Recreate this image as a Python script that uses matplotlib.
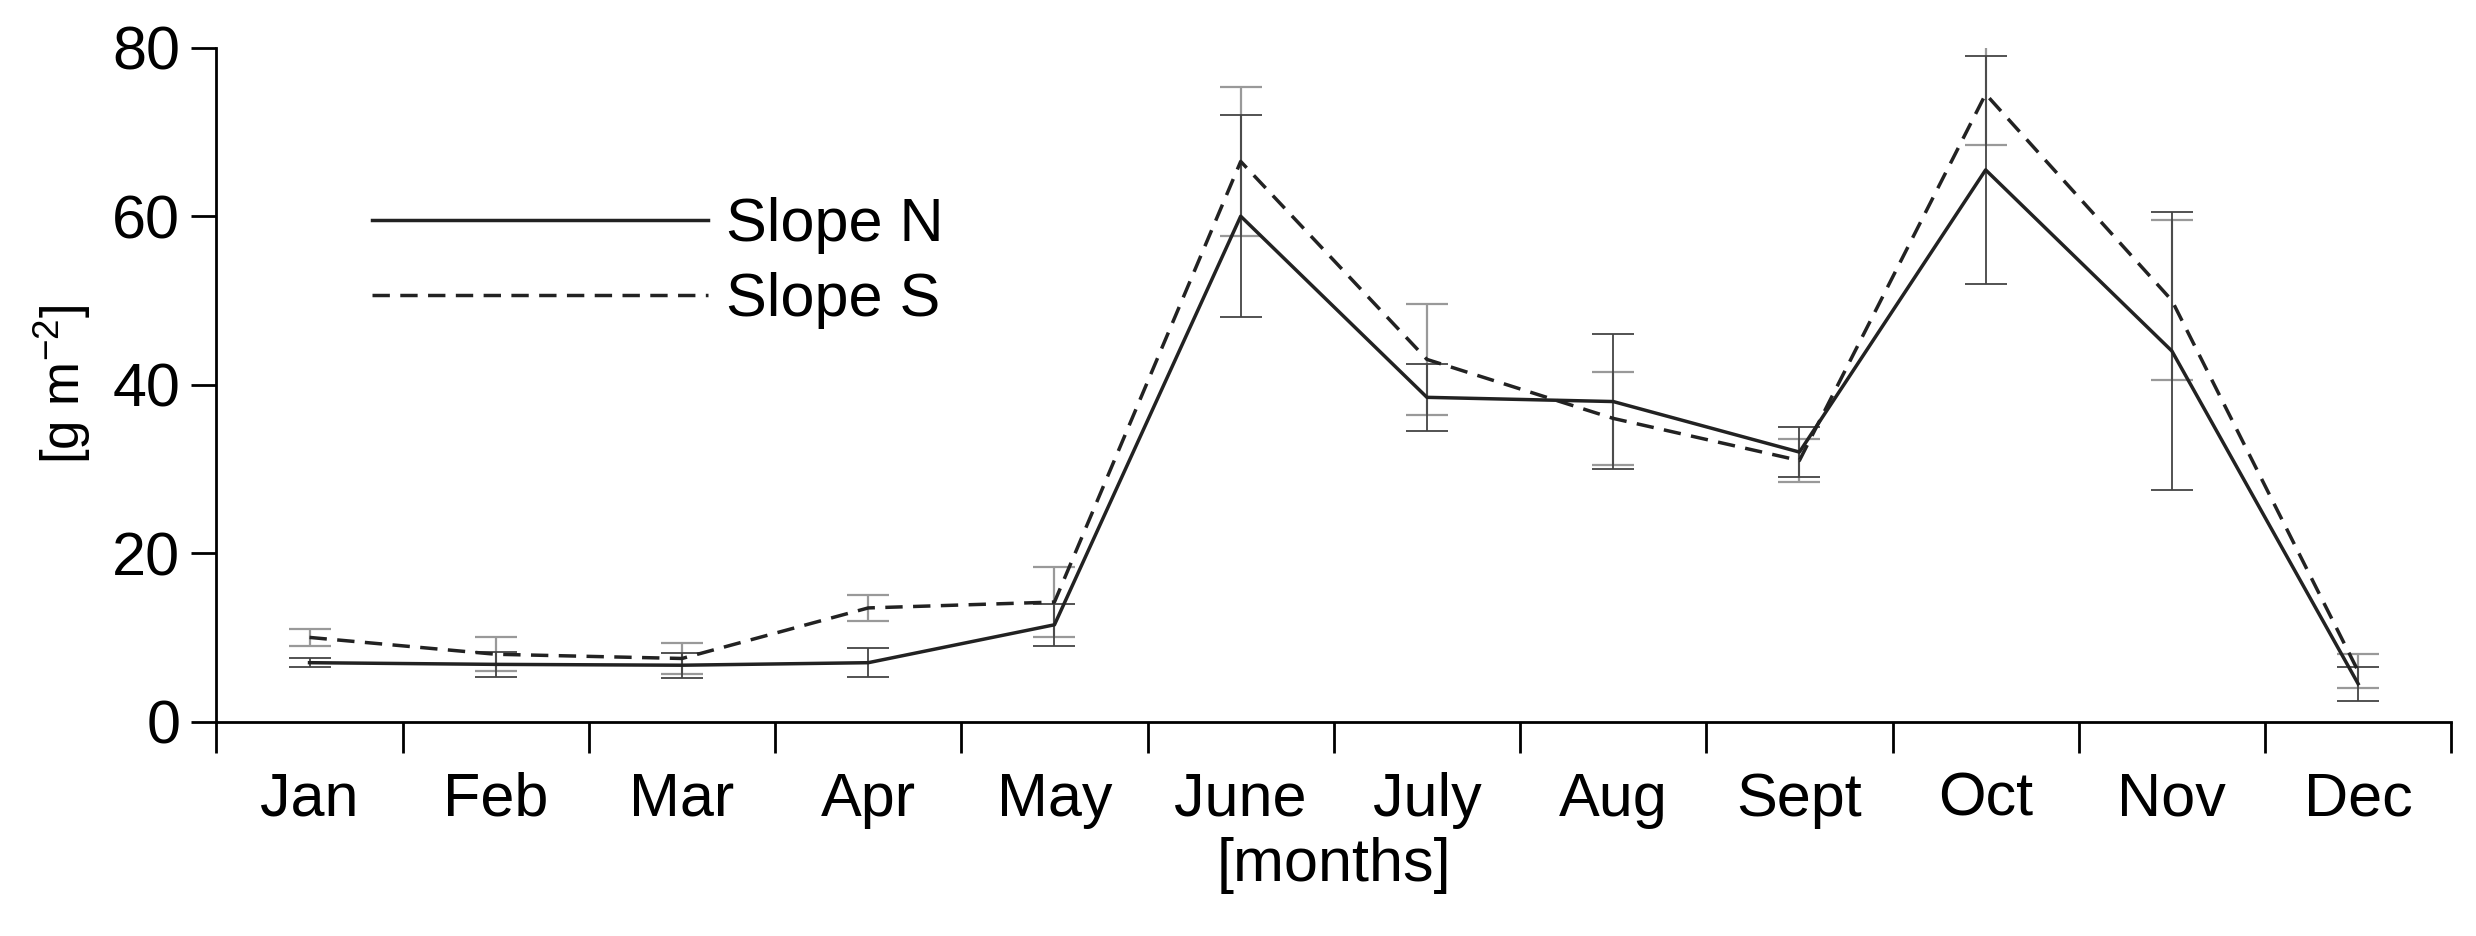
import matplotlib
matplotlib.use("Agg")
import matplotlib.pyplot as plt
import numpy as np

months = ["Jan", "Feb", "Mar", "Apr", "May", "June", "July", "Aug", "Sept", "Oct", "Nov", "Dec"]
slope_n = [7.0, 6.8, 6.7, 7.0, 11.5, 60.0, 38.5, 38.0, 32.0, 65.5, 44.0, 4.5]
slope_n_err = [0.5, 1.5, 1.5, 1.7, 2.5, 12.0, 4.0, 8.0, 3.0, 13.5, 16.5, 2.0]
slope_s = [10.0, 8.0, 7.5, 13.5, 14.2, 66.5, 43.0, 36.0, 31.0, 74.5, 50.0, 6.0]
slope_s_err = [1.0, 2.0, 1.8, 1.5, 4.2, 8.8, 6.6, 5.5, 2.5, 6.0, 9.5, 2.0]

plt.rcParams['font.family'] = ['Liberation Sans', 'DejaVu Sans']
plt.rcParams['mathtext.default'] = 'regular'
fig = plt.figure(figsize=(24.76, 9.36), dpi=100)
ax = fig.add_axes([0.0874, 0.229, 0.9026, 0.72])

x = np.arange(len(months))
ax.errorbar(x, slope_s, yerr=slope_s_err, fmt='none', ecolor='#999999',
            elinewidth=1.6, capsize=15, capthick=1.6)
ax.errorbar(x, slope_n, yerr=slope_n_err, fmt='none', ecolor='#444444',
            elinewidth=1.3, capsize=15, capthick=1.3)
ax.plot(x, slope_n, color='#222222', lw=2.5, label='Slope N')
ax.plot(x, slope_s, color='#222222', lw=2.5, ls=(0, (5, 3)), label='Slope S')

ax.set_xlim(-0.5, len(months) - 0.5)
ax.set_ylim(0, 80)
ax.set_yticks([0, 20, 40, 60, 80])
ax.set_xticks(np.arange(-0.5, len(months) + 0.5, 1.0))
ax.set_xticklabels([])
ax.set_xticks(x, minor=True)
ax.set_xticklabels(months, minor=True)
ax.tick_params(axis='x', which='major', direction='out', length=22, width=2)
ax.tick_params(axis='x', which='minor', length=0, pad=36, labelsize=44)
ax.tick_params(axis='y', direction='out', length=18, width=2, labelsize=44, pad=8)
for s in ['top', 'right']:
    ax.spines[s].set_visible(False)
for s in ['left', 'bottom']:
    ax.spines[s].set_linewidth(2)

ax.set_xlabel('[months]', fontsize=44, labelpad=6)
ax.set_ylabel('[g m$^{-2}$]', fontsize=38, labelpad=14)

ax.legend(loc='upper left', bbox_to_anchor=(0.045, 0.86), frameon=False,
          fontsize=44, handlelength=5.5, handletextpad=0.3, labelspacing=0.3)

fig.savefig('out.png', dpi=100)
